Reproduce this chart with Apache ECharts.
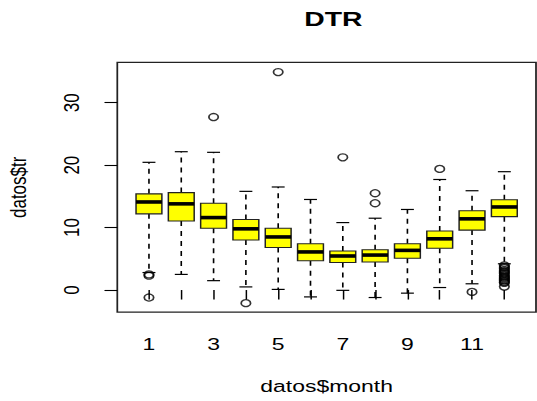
<!DOCTYPE html>
<html><head><meta charset="utf-8">
<script src="https://cdn.jsdelivr.net/npm/echarts@6/dist/echarts.min.js"></script>
<style>
html,body{margin:0;padding:0;overflow:hidden;background:#fff;width:537px;height:401px}
#c{width:397.8px;height:401px;transform:scaleX(1.35);transform-origin:0 0;}
</style>
</head><body><div id="c"></div>
<script>
// ---- data ----
const months        = [1, 2, 3, 4, 5, 6, 7, 8, 9, 10, 11, 12];
const lowerWhisker  = [2.8, 2.5, 1.5, 0.5, 0.1, -1.1, -0.05, -1.2, -0.5, 0.4, 1.0, 4.2];
const q1            = [12.2, 11.05, 9.9, 8.0, 6.8, 4.7, 4.4, 4.5, 5.1, 6.7, 9.6, 11.75];
const medians       = [14.1, 13.8, 11.6, 9.8, 8.5, 6.1, 5.45, 5.6, 6.35, 8.2, 11.4, 13.3];
const q3            = [15.4, 15.6, 13.9, 11.3, 9.9, 7.4, 6.25, 6.45, 7.4, 9.45, 12.7, 14.45];
const upperWhisker  = [20.45, 22.15, 22.05, 15.8, 16.5, 14.5, 10.8, 11.5, 12.9, 17.7, 15.9, 18.95];
const outlierMonth  = [1, 1, 1, 3, 4, 5, 7, 8, 8, 10, 11,
                       12, 12, 12, 12, 12, 12, 12, 12, 12, 12, 12, 12, 12, 12, 12];
const outlierValue  = [2.5, 2.3, -1.2, 27.7, -2.1, 34.9, 21.25, 15.5, 13.9, 19.4, -0.3,
                       3.95, 3.7, 3.5, 3.2, 3.0, 2.8, 2.6, 2.3, 2.1, 1.9, 1.7, 1.5, 1.3, 1.15, 0.55];
const xTickValues   = months;
const xLabelValues  = [1, 3, 5, 7, 9, 11];
const yTickValues   = [0, 10, 20, 30];

// ---- layout ----
const SX = 1.35;
const FONT = '"Liberation Sans", Arial, sans-serif';

const boxData = months.map((m, i) => [m, lowerWhisker[i], q1[i], medians[i], q3[i], upperWhisker[i]]);
const outData = outlierMonth.map((m, i) => [m, outlierValue[i]]);

const chart = echarts.init(document.getElementById('c'), null, {renderer: 'svg'});
chart.setOption({
  animation: false,
  backgroundColor: '#fff',
  title: {
    text: 'DTR',
    left: (117.3 + 536) / 2 / SX,
    textAlign: 'center',
    top: 3,
    textStyle: {fontFamily: FONT, fontSize: 21, fontWeight: 'bold', color: '#000'}
  },
  grid: {
    left: 117.3 / SX, top: 62.4, width: (536 - 117.3) / SX, height: 249.8,
    show: true, borderColor: '#222', borderWidth: 1.3, backgroundColor: 'transparent',
    outerBoundsMode: 'none'
  },
  xAxis: {
    type: 'value', min: 0.02, max: 12.98,
    axisLine: {show: false}, splitLine: {show: false},
    axisTick: {show: true, customValues: xTickValues, length: 9.5, lineStyle: {color: '#000', width: 1.1}},
    axisLabel: {customValues: xLabelValues, fontFamily: FONT, fontSize: 17, color: '#000', margin: 23},
    name: 'datos$month', nameLocation: 'middle', nameGap: 65,
    nameTextStyle: {fontFamily: FONT, fontSize: 17, color: '#000'}
  },
  yAxis: {
    type: 'value', min: -3.55, max: 36.45,
    axisLine: {show: false}, splitLine: {show: false},
    axisTick: {show: true, customValues: yTickValues, length: 9.5, lineStyle: {color: '#000', width: 1.1}},
    axisLabel: {customValues: yTickValues, rotate: 90, fontFamily: FONT, fontSize: 17, color: '#000', margin: 26},
    name: 'datos$tr', nameLocation: 'middle', nameGap: 65, nameRotate: 90,
    nameTextStyle: {fontFamily: FONT, fontSize: 17, color: '#000'}
  },
  series: [{
    type: 'custom',
    data: boxData,
    encode: {x: 0, y: [1, 2, 3, 4, 5]},
    renderItem: function (params, api) {
      const x = api.value(0);
      const lo = api.coord([x, api.value(1)]);
      const b1 = api.coord([x, api.value(2)]);
      const md = api.coord([x, api.value(3)]);
      const b3 = api.coord([x, api.value(4)]);
      const hi = api.coord([x, api.value(5)]);
      const hw = api.size([0.4, 0])[0];
      const sw = api.size([0.2, 0])[0];
      const cx = lo[0];
      const dash = {stroke: '#000', lineWidth: 1.2, lineDash: [5, 5]};
      const solid = {stroke: '#000', lineWidth: 1.2};
      return {type: 'group', children: [
        {type: 'line', shape: {x1: cx, y1: b3[1], x2: cx, y2: hi[1]}, style: dash},
        {type: 'line', shape: {x1: cx, y1: b1[1], x2: cx, y2: lo[1]}, style: dash},
        {type: 'line', shape: {x1: cx - sw, y1: hi[1], x2: cx + sw, y2: hi[1]}, style: solid},
        {type: 'line', shape: {x1: cx - sw, y1: lo[1], x2: cx + sw, y2: lo[1]}, style: solid},
        {type: 'rect', shape: {x: cx - hw, y: b3[1], width: 2 * hw, height: b1[1] - b3[1]},
          style: {fill: '#ffff00', stroke: '#222', lineWidth: 1.1}},
        {type: 'line', shape: {x1: cx - hw, y1: md[1], x2: cx + hw, y2: md[1]}, style: {stroke: '#000', lineWidth: 3.6}}
      ]};
    }
  }, {
    type: 'scatter',
    data: outData,
    symbol: 'circle',
    symbolSize: 7,
    itemStyle: {color: 'rgba(0,0,0,0)', borderColor: '#000', borderWidth: 1.3}
  }]
});
</script>
</body></html>
